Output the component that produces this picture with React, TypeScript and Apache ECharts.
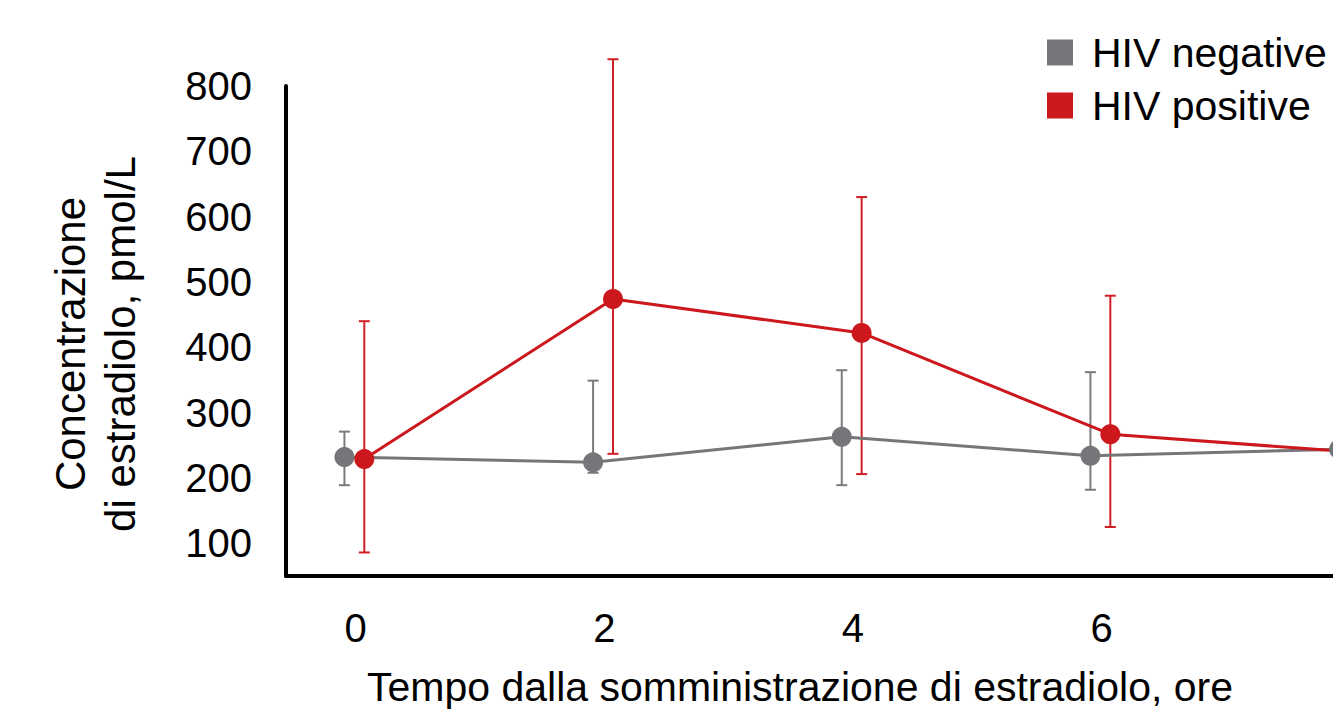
import React, { useEffect, useRef } from "react";
import * as echarts from "echarts";

const times = [0, 2, 4, 6, 8];
const xTickLabels = [0, 2, 4, 6];
const yTickLabels = [100, 200, 300, 400, 500, 600, 700, 800];

const negMean = [232, 224, 263, 234, 244];
const negLow = [189, 208, 189, 182, 205];
const negHigh = [271, 349, 365, 362, 290];

const posMean = [229, 474, 422, 267, 239];
const posLow = [86, 237, 206, 125, 150];
const posHigh = [440, 841, 630, 479, 330];

const NEG_DODGE = -0.09;
const POS_DODGE = 0.07;

const GRAY = "#76767a";
const RED = "#cc171d";
const FONT = "'Liberation Sans', Arial, Helvetica, sans-serif";

export default function App() {
  const ref = useRef<HTMLDivElement>(null);
  useEffect(() => {
    if (!ref.current) return;
    const chart = echarts.init(ref.current, undefined, { renderer: "svg" });

    const negPts = times.map((t, i) => [t + NEG_DODGE, negMean[i]]);
    const posPts = times.map((t, i) => [t + POS_DODGE, posMean[i]]);
    const negErr = times.map((t, i) => [t + NEG_DODGE, negLow[i], negHigh[i]]);
    const posErr = times.map((t, i) => [t + POS_DODGE, posLow[i], posHigh[i]]);

    const errRender = (color: string) => (params: any, api: any) => {
      const x = api.value(0);
      const lo = api.coord([x, api.value(1)]);
      const hi = api.coord([x, api.value(2)]);
      const w = 5.5;
      const style = { stroke: color, lineWidth: 2 };
      return {
        type: "group",
        children: [
          { type: "line", shape: { x1: lo[0], y1: lo[1], x2: hi[0], y2: hi[1] }, style },
          { type: "line", shape: { x1: lo[0] - w, y1: lo[1], x2: lo[0] + w, y2: lo[1] }, style },
          { type: "line", shape: { x1: hi[0] - w, y1: hi[1], x2: hi[0] + w, y2: hi[1] }, style },
        ],
      };
    };

    chart.setOption({
      animation: false,
      backgroundColor: "#ffffff",
      textStyle: { fontFamily: FONT },
      grid: { left: 286, top: 86, width: 1114, height: 490, containLabel: false },
      legend: {
        orient: "vertical",
        left: 1047,
        top: 32,
        padding: 0,
        itemWidth: 26,
        itemHeight: 26,
        itemGap: 12,
        icon: "rect",
        selectedMode: false,
        textStyle: { fontSize: 41, color: "#000", fontFamily: FONT, padding: [0, 0, 0, 14] },
        data: [
          { name: "HIV negative", itemStyle: { color: GRAY } },
          { name: "HIV positive", itemStyle: { color: RED } },
        ],
      },
      xAxis: {
        type: "value",
        min: -0.56,
        max: 8.4,
        splitLine: { show: false },
        axisTick: { show: false },
        axisLine: { show: true, onZero: false, lineStyle: { color: "#000", width: 4 } },
        axisLabel: {
          customValues: xTickLabels,
          fontSize: 40,
          color: "#000",
          margin: 32,
          fontFamily: FONT,
        },
      },
      yAxis: {
        type: "value",
        min: 50,
        max: 800,
        splitLine: { show: false },
        axisTick: { show: false },
        axisLine: { show: true, onZero: false, lineStyle: { color: "#000", width: 4 } },
        axisLabel: {
          customValues: yTickLabels,
          fontSize: 40,
          color: "#000",
          margin: 34,
          fontFamily: FONT,
        },
      },
      graphic: [
        {
          type: "text",
          x: 95,
          y: 344,
          rotation: Math.PI / 2,
          style: {
            text: "Concentrazione\ndi estradiolo, pmol/L",
            fontSize: 42,
            lineHeight: 50,
            fontFamily: FONT,
            fill: "#000",
            align: "center",
            verticalAlign: "middle",
          },
        },
        {
          type: "text",
          x: 800,
          y: 687,
          style: {
            text: "Tempo dalla somministrazione di estradiolo, ore",
            fontSize: 41,
            fontFamily: FONT,
            fill: "#000",
            align: "center",
            verticalAlign: "middle",
          },
        },
      ],
      series: [
        {
          type: "custom",
          name: "HIV negative err",
          renderItem: errRender("#7b7b7f"),
          data: negErr,
          encode: { x: 0, y: [1, 2] },
          clip: false,
          z: 1,
        },
        {
          type: "custom",
          name: "HIV positive err",
          renderItem: errRender("#d11f26"),
          data: posErr,
          encode: { x: 0, y: [1, 2] },
          clip: false,
          z: 1,
        },
        {
          type: "line",
          name: "HIV negative",
          data: negPts,
          symbol: "none",
          lineStyle: { color: GRAY, width: 3 },
          itemStyle: { color: GRAY },
          clip: false,
          z: 2,
        },
        {
          type: "line",
          name: "HIV positive",
          data: posPts,
          symbol: "none",
          lineStyle: { color: RED, width: 3 },
          itemStyle: { color: RED },
          clip: false,
          z: 2,
        },
        {
          type: "scatter",
          name: "HIV negative",
          data: negPts,
          symbol: "circle",
          symbolSize: 20,
          itemStyle: { color: GRAY, opacity: 1 },
          clip: false,
          z: 3,
        },
        {
          type: "scatter",
          name: "HIV positive",
          data: posPts,
          symbol: "circle",
          symbolSize: 20,
          itemStyle: { color: RED, opacity: 1 },
          clip: false,
          z: 3,
        },
      ],
    });
    return () => chart.dispose();
  }, []);

  return (
    <div
      style={{
        position: "fixed",
        left: 0,
        top: 0,
        width: 1333,
        height: 709,
        overflow: "hidden",
        background: "#fff",
      }}
    >
      <div ref={ref} style={{ width: 1420, height: 709 }} />
    </div>
  );
}
